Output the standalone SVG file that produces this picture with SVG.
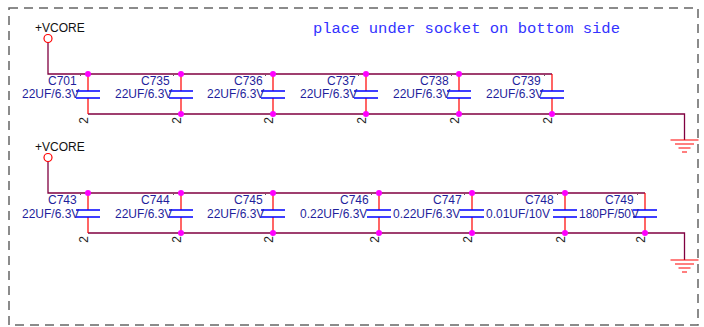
<svg xmlns="http://www.w3.org/2000/svg" width="704" height="327" viewBox="0 0 704 327">
<style>
text{font-family:"Liberation Sans",Arial,sans-serif;font-size:12px}
.w{fill:none;stroke:#800040;stroke-width:1.3}
.r{fill:none;stroke:#ff0000;stroke-width:1.2}
.p{fill:none;stroke:#0000ff;stroke-width:1.3}
.d{fill:#ff00ff}
.l{fill:#1f1f9c}
.k{fill:#111}
.n{fill:#222}
.t{fill:none;stroke:#ff0000;stroke-width:1.2}
.tick{fill:none;stroke:#333;stroke-width:.8}
</style>
<defs>
<g id="cap"><path class="r" d="M0 0V17M0 24V40"/><path class="p" d="M-12 17H12M-12 24H12"/><text class="n" transform="translate(0 46.500) rotate(-90)" text-anchor="middle">2</text><path class="tick" d="M-7 2l-1 -1"/></g>
<g id="gnd"><path class="t" d="M-14 0H14M-9.500 4H9.500M-6 8H6M-2.500 12H2.500"/></g>
</defs>
<rect id="frame" x="9" y="8" width="689" height="317" fill="none" stroke="#666" stroke-width="1.5" stroke-dasharray="9 6"/>
<text x="313" y="33" fill="#3333ff" style="font-family:'Liberation Mono',monospace;font-size:15.500px">place under socket on bottom side</text>
<g id="connectors">
<path class="w" d="M48 42.500V74H552"/><path class="w" d="M88 114H684.500V140"/>
<path class="w" d="M48 161.500V193H645"/><path class="w" d="M88 233H684.500V260"/>
</g>
<g id="pwr1"><circle cx="48" cy="38.500" r="4" fill="#fff" stroke="#f00" stroke-width="1.200"/><text class="k" x="35" y="32">+VCORE</text></g>
<g id="pwr2"><circle cx="48" cy="157.500" r="4" fill="#fff" stroke="#f00" stroke-width="1.200"/><text class="k" x="35" y="151">+VCORE</text></g>
<g id="gnd1"><use href="#gnd" x="684.500" y="140"/></g>
<g id="gnd2"><use href="#gnd" x="684.500" y="260"/></g>
<g id="C701"><use href="#cap" x="88" y="74"/><text class="l" x="48" y="85">C701</text><text class="l" x="22" y="98">22UF/6.3V</text></g>
<g id="C735"><use href="#cap" x="181" y="74"/><text class="l" x="141" y="85">C735</text><text class="l" x="115" y="98">22UF/6.3V</text></g>
<g id="C736"><use href="#cap" x="273" y="74"/><text class="l" x="234" y="85">C736</text><text class="l" x="207" y="98">22UF/6.3V</text></g>
<g id="C737"><use href="#cap" x="366" y="74"/><text class="l" x="327" y="85">C737</text><text class="l" x="300" y="98">22UF/6.3V</text></g>
<g id="C738"><use href="#cap" x="459" y="74"/><text class="l" x="420" y="85">C738</text><text class="l" x="393" y="98">22UF/6.3V</text></g>
<g id="C739"><use href="#cap" x="552" y="74"/><text class="l" x="512" y="85">C739</text><text class="l" x="486" y="98">22UF/6.3V</text></g>
<g id="C743"><use href="#cap" x="88" y="193"/><text class="l" x="48" y="204">C743</text><text class="l" x="22" y="218">22UF/6.3V</text></g>
<g id="C744"><use href="#cap" x="181" y="193"/><text class="l" x="141" y="204">C744</text><text class="l" x="115" y="218">22UF/6.3V</text></g>
<g id="C745"><use href="#cap" x="273" y="193"/><text class="l" x="234" y="204">C745</text><text class="l" x="207" y="218">22UF/6.3V</text></g>
<g id="C746"><use href="#cap" x="379" y="193"/><text class="l" x="340" y="204">C746</text><text class="l" x="300" y="218">0.22UF/6.3V</text></g>
<g id="C747"><use href="#cap" x="472" y="193"/><text class="l" x="433" y="204">C747</text><text class="l" x="393" y="218">0.22UF/6.3V</text></g>
<g id="C748"><use href="#cap" x="565" y="193"/><text class="l" x="525" y="204">C748</text><text class="l" x="486" y="218">0.01UF/10V</text></g>
<g id="C749"><use href="#cap" x="645" y="193"/><text class="l" x="605" y="204">C749</text><text class="l" x="579" y="218">180PF/50V</text></g>
<g id="junctions">
<circle class="d" cx="88" cy="74" r="3"/><circle class="d" cx="181" cy="74" r="3"/><circle class="d" cx="273" cy="74" r="3"/><circle class="d" cx="366" cy="74" r="3"/><circle class="d" cx="459" cy="74" r="3"/>
<circle class="d" cx="181" cy="114" r="3"/><circle class="d" cx="273" cy="114" r="3"/><circle class="d" cx="366" cy="114" r="3"/><circle class="d" cx="459" cy="114" r="3"/><circle class="d" cx="552" cy="114" r="3"/>
<circle class="d" cx="88" cy="193" r="3"/><circle class="d" cx="181" cy="193" r="3"/><circle class="d" cx="273" cy="193" r="3"/><circle class="d" cx="379" cy="193" r="3"/><circle class="d" cx="472" cy="193" r="3"/><circle class="d" cx="565" cy="193" r="3"/>
<circle class="d" cx="181" cy="233" r="3"/><circle class="d" cx="273" cy="233" r="3"/><circle class="d" cx="379" cy="233" r="3"/><circle class="d" cx="472" cy="233" r="3"/><circle class="d" cx="565" cy="233" r="3"/><circle class="d" cx="645" cy="233" r="3"/>
</g>
</svg>
